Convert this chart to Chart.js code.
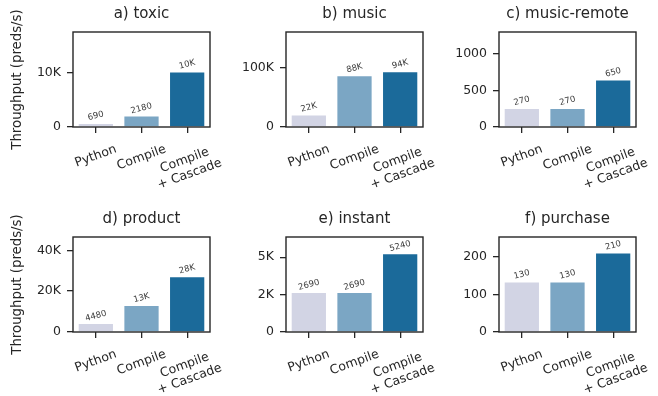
<!DOCTYPE html>
<html>
<head>
<meta charset="utf-8">
<script src="https://cdn.jsdelivr.net/npm/chart.js@4/dist/chart.umd.min.js"></script>
<style>
  html, body { margin: 0; padding: 0; background: #fff; overflow: hidden; }
  body { width: 658px; height: 396px; position: relative; }
  canvas { position: absolute; }
</style>
</head>
<body>
<script>
const categories = ['Python', 'Compile', ['Compile', '+ Cascade']];
const titles = ['a) toxic', 'b) music', 'c) music-remote', 'd) product', 'e) instant', 'f) purchase'];

// bar heights
const pythonValues  = [550, 19300, 245, 3900, 2610, 131];
const compileValues = [1930, 85800, 245, 12700, 2610, 131];
const cascadeValues = [10100, 92700, 633, 26800, 5200, 208];

// text printed above the bars
const pythonLabels  = ['690', '22K', '270', '4480', '2690', '130'];
const compileLabels = ['2180', '88K', '270', '13K', '2690', '130'];
const cascadeLabels = ['10K', '94K', '650', '28K', '5240', '210'];

const yMax = [17600, 161000, 1296, 46500, 6350, 252];
const yTicks = [[0, 10000], [0, 100000], [0, 500, 1000], [0, 20000, 40000], [0, 2500, 5000], [0, 100, 200]];
const yTickLabels = [['0', '10K'], ['0', '100K'], ['0', '500', '1000'], ['0', '20K', '40K'], ['0', '2K', '5K'], ['0', '100', '200']];

const yTitle = 'Throughput (preds/s)';
const colors = ['#d2d4e4', '#7ba6c4', '#1b6a9a'];

const FONT = "'DejaVu Sans', sans-serif";
const INK = '#262626';

const plotW = 137, plotH = 95, titleH = 32, xAxisH = 62, rightPad = 14;
const plotLefts = [73, 286, 499];
const plotTops = [32, 237];

const framePlugin = {
    id: 'frame',
    afterDatasetsDraw(chart, args, opts) {
        const ctx = chart.ctx;
        const area = chart.chartArea;
        const meta = chart.getDatasetMeta(0);

        // value labels above bars
        ctx.save();
        ctx.fillStyle = '#3a3a3a';
        ctx.font = '8.5px ' + FONT;
        ctx.textAlign = 'center';
        ctx.textBaseline = 'middle';
        meta.data.forEach((bar, j) => {
            ctx.save();
            ctx.translate(bar.x, bar.y - 8);
            ctx.rotate(-15 * Math.PI / 180);
            ctx.fillText(opts.labels[j], 0, 0);
            ctx.restore();
        });
        ctx.restore();

        // box around the plot
        ctx.save();
        ctx.strokeStyle = INK;
        ctx.lineWidth = 1.4;
        ctx.strokeRect(area.left, area.top, area.right - area.left, area.bottom - area.top);
        ctx.restore();

        // rotated category labels, centred on each tick
        const xs = chart.scales.x;
        const theta = 20 * Math.PI / 180;
        const lh = 14.6;
        ctx.save();
        ctx.fillStyle = INK;
        ctx.font = '12.5px ' + FONT;
        ctx.textAlign = 'center';
        ctx.textBaseline = 'middle';
        categories.forEach((cat, i) => {
            const lines = Array.isArray(cat) ? cat : [cat];
            const w = Math.max(...lines.map(l => ctx.measureText(l).width));
            const h = lines.length * lh;
            const boxH = w * Math.sin(theta) + h * Math.cos(theta);
            const x = xs.getPixelForValue(i);
            const y = area.bottom + 15 + boxH / 2;
            ctx.save();
            ctx.translate(x, y);
            ctx.rotate(-theta);
            lines.forEach((l, k) => {
                ctx.fillText(l, 0, (k - (lines.length - 1) / 2) * lh);
            });
            ctx.restore();
        });
        ctx.restore();
    }
};

titles.forEach((title, i) => {
    const col = i % 3, row = Math.floor(i / 3);
    const yAxisW = col === 0 ? plotLefts[0] : 60;
    const left = plotLefts[col] - yAxisW;
    const top = plotTops[row] - titleH;

    const canvas = document.createElement('canvas');
    canvas.width = yAxisW + plotW + rightPad;
    canvas.height = titleH + plotH + xAxisH;
    canvas.style.left = left + 'px';
    canvas.style.top = top + 'px';
    document.body.appendChild(canvas);

    new Chart(canvas.getContext('2d'), {
        type: 'bar',
        data: {
            labels: categories,
            datasets: [{
                data: [pythonValues[i], compileValues[i], cascadeValues[i]],
                backgroundColor: colors,
                borderWidth: 0,
                barPercentage: 0.75,
                categoryPercentage: 1
            }]
        },
        options: {
            responsive: false,
            animation: false,
            layout: { padding: { left: 0, right: rightPad, top: 0, bottom: 0 } },
            plugins: {
                legend: { display: false },
                tooltip: { enabled: false },
                title: {
                    display: true,
                    text: title,
                    fullSize: false,
                    color: INK,
                    font: { family: FONT, size: 15, weight: 'normal', lineHeight: '16px' },
                    padding: { top: 6, bottom: 10 }
                },
                frame: {
                    labels: [pythonLabels[i], compileLabels[i], cascadeLabels[i]]
                }
            },
            scales: {
                x: {
                    afterFit: (scale) => { scale.height = xAxisH; },
                    border: { display: false },
                    grid: {
                        offset: false,
                        drawOnChartArea: false,
                        drawTicks: true,
                        tickLength: 6,
                        color: INK,
                        lineWidth: 1.3
                    },
                    ticks: { display: false }
                },
                y: {
                    min: 0,
                    max: yMax[i],
                    afterFit: (scale) => { scale.width = yAxisW; },
                    afterBuildTicks: (scale) => {
                        scale.ticks = yTicks[i].map(v => ({ value: v }));
                    },
                    border: { display: false },
                    grid: {
                        drawOnChartArea: false,
                        drawTicks: true,
                        tickLength: 6,
                        color: INK,
                        lineWidth: 1.3
                    },
                    ticks: {
                        color: INK,
                        padding: 6,
                        font: { family: FONT, size: 12.5 },
                        callback: (value, index) => yTickLabels[i][index]
                    },
                    title: {
                        display: col === 0,
                        text: yTitle,
                        color: INK,
                        font: { family: FONT, size: 13.3 },
                        padding: { top: 9.5, bottom: 0 }
                    }
                }
            }
        },
        plugins: [framePlugin]
    });
});
</script>
</body>
</html>
